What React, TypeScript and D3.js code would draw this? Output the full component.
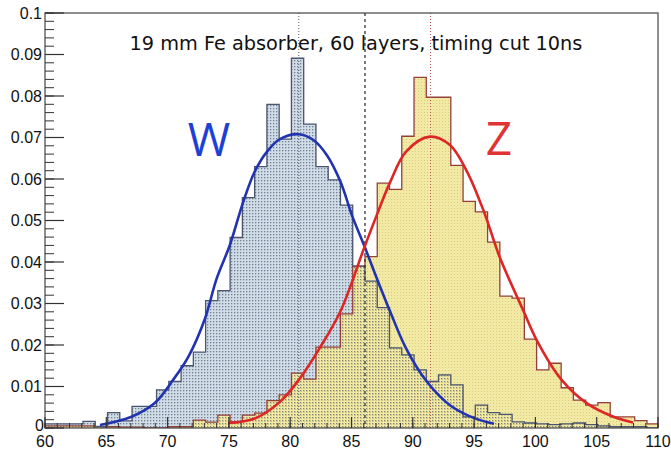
import React from "react";
import * as d3 from "d3";

// Histogram bins: lower edges start at binStart, width binWidth
const binStart = 59.1;
const binWidth = 1;
const wValues = [
  0.001, 0.001, 0.001, 0.001, 0.0016, 0.0004, 0.0037, 0.0017, 0.0052, 0.0052,
  0.0092, 0.0112, 0.015, 0.0183, 0.0307, 0.0331, 0.0459, 0.0555, 0.063, 0.078,
  0.0696, 0.0891, 0.0732, 0.063, 0.0598, 0.0537, 0.039, 0.0354, 0.029, 0.0193,
  0.0176, 0.014, 0.0112, 0.0128, 0.0104, 0.0027, 0.0055, 0.0037, 0.0033, 0.0015,
  0.0012, 0.001, 0.0008, 0.001, 0.0012, 0.0008, 0.0005, 0.0003, 0.0003, 0.0003,
  0,
];
const zValues = [
  0.0005, 0.0005, 0.0005, 0.0005, 0.0005, 0.0003, 0.0003, 0.0002, 0.0002, 0,
  0, 0.0003, 0.0003, 0.0019, 0.0014, 0.0031, 0.0015, 0.0031, 0.0036, 0.0066,
  0.008, 0.0132, 0.0118, 0.0195, 0.0195, 0.0275, 0.039, 0.0413, 0.059, 0.0575,
  0.0703, 0.0845, 0.0797, 0.0797, 0.0633, 0.0546, 0.0521, 0.0448, 0.0318, 0.0313,
  0.0214, 0.014, 0.0156, 0.0097, 0.0067, 0.0055, 0.0061, 0.0027, 0.0027, 0.0018,
  0.001,
];

// Fit curves
const wFitX = [64.48, 67.06, 68.95, 70.45, 71.7, 73.03, 74.0, 75.08, 76.17, 77.11, 78.11, 79.16, 80.7, 81.89, 82.98, 84.08, 85.07, 86.07, 87.06, 88.16, 89.45, 91.14, 93.03, 94.92, 96.62];
const wFitY = [0.0007, 0.0027, 0.006, 0.0116, 0.0172, 0.0262, 0.036, 0.0441, 0.0545, 0.0618, 0.0666, 0.0696, 0.0708, 0.0694, 0.0658, 0.0595, 0.051, 0.0437, 0.0361, 0.028, 0.0192, 0.0112, 0.0055, 0.0025, 0.001];
const zFitX = [74.93, 77.11, 79.16, 80.8, 82.39, 84.08, 86.07, 87.06, 88.16, 89.45, 91.39, 93.03, 94.42, 95.82, 97.11, 99.0, 100.1, 102.14, 104.18, 106.37, 107.96];
const zFitY = [0.0012, 0.0023, 0.0063, 0.012, 0.0192, 0.028, 0.0437, 0.0513, 0.0593, 0.0666, 0.0702, 0.0682, 0.0618, 0.052, 0.041, 0.0284, 0.0212, 0.0116, 0.006, 0.0027, 0.0013];

const vLines = [80.7, 86.1, 91.45];
const xTicks = [60, 65, 70, 75, 80, 85, 90, 95, 100, 105, 110];
const yTicks = [0, 0.01, 0.02, 0.03, 0.04, 0.05, 0.06, 0.07, 0.08, 0.09, 0.1];
const yTickLabels = ["0", "0.01", "0.02", "0.03", "0.04", "0.05", "0.06", "0.07", "0.08", "0.09", "0.1"];
const title = "19 mm Fe absorber, 60 layers, timing cut 10ns";

const W = 671;
const H = 451;
const L = 45, R = 658, T = 13, B = 428;

export default function App() {
  const x = d3.scaleLinear().domain([60, 110]).range([L, R]);
  const y = d3.scaleLinear().domain([0, 0.1]).range([B, T]);

  const histPts = (vals: number[]) => {
    const pts: [number, number][] = [[binStart, 0]];
    vals.forEach((v, i) => pts.push([binStart + i * binWidth, v]));
    const end = binStart + vals.length * binWidth;
    pts.push([end, vals[vals.length - 1]]);
    pts.push([end, 0]);
    return pts;
  };
  const areaGen = d3
    .area<[number, number]>()
    .x((d) => x(d[0]))
    .y0(y(0))
    .y1((d) => y(d[1]))
    .curve(d3.curveStepAfter);
  const lineGen = d3
    .line<[number, number]>()
    .x((d) => x(d[0]))
    .y((d) => y(d[1]))
    .curve(d3.curveStepAfter);
  const fitGen = d3
    .line<[number, number]>()
    .x((d) => x(d[0]))
    .y((d) => y(d[1]))
    .curve(d3.curveCatmullRom.alpha(0.5));

  const wPts = histPts(wValues);
  const zPts = histPts(zValues);
  const wFit = wFitX.map((v, i) => [v, wFitY[i]] as [number, number]);
  const zFit = zFitX.map((v, i) => [v, zFitY[i]] as [number, number]);

  const minorX = d3.range(60, 111, 1);
  const minorY = d3.range(0, 0.1001, 0.002);
  const labelFont = "'Liberation Sans', Arial, sans-serif";

  return (
    <svg width={W} height={H} style={{ position: "absolute", left: 0, top: 0, background: "#fff" }}>
      <defs>
        <clipPath id="plot">
          <rect x={L} y={T} width={R - L} height={B - T} />
        </clipPath>
        <pattern id="wdots" width="3" height="3" patternUnits="userSpaceOnUse">
          <rect x="0" y="0" width="1.3" height="1.3" fill="#34425e" opacity="0.6" />
        </pattern>
        <pattern id="zdots" width="3" height="3" patternUnits="userSpaceOnUse">
          <rect x="1" y="1" width="1" height="1" fill="#b8a955" opacity="0.45" />
        </pattern>
      </defs>
      <g clipPath="url(#plot)">
        <path d={areaGen(wPts) || ""} fill="#d0dce6" />
        <path d={areaGen(zPts) || ""} fill="#f2e9a4" />
        <path d={areaGen(zPts) || ""} fill="url(#zdots)" />
        <path d={areaGen(wPts) || ""} fill="url(#wdots)" />
        <path d={lineGen(zPts) || ""} fill="none" stroke="#94403a" strokeWidth={1.3} />
        <path d={lineGen(wPts) || ""} fill="none" stroke="#4a5570" strokeWidth={1.3} />
        {vLines.map((v, i) => (
          <line
            key={i}
            x1={x(v)}
            x2={x(v)}
            y1={T}
            y2={B}
            stroke={i === 0 ? "#4a5570" : i === 1 ? "#333" : "#b05050"}
            strokeWidth={i === 1 ? 1.3 : 1}
            strokeDasharray={i === 1 ? "3,3" : "1,2"}
          />
        ))}
        <path d={fitGen(wFit) || ""} fill="none" stroke="#2233b0" strokeWidth={2.6} />
        <path d={fitGen(zFit) || ""} fill="none" stroke="#dd2626" strokeWidth={2.6} />
      </g>
      {/* frame */}
      <rect x={L} y={T} width={R - L} height={B - T} fill="none" stroke="#444" strokeWidth={1.2} />
      {/* y ticks */}
      {minorY.map((v, i) => (
        <line key={"my" + i} x1={L} x2={L + 9} y1={y(v)} y2={y(v)} stroke="#333" strokeWidth={1} />
      ))}
      {yTicks.map((v, i) => (
        <g key={"y" + i}>
          <line x1={L} x2={L + 19} y1={y(v)} y2={y(v)} stroke="#333" strokeWidth={1.2} />
          <text
            x={i === 0 ? 44 : 42}
            y={y(v)}
            dy={i === 0 ? "0.2em" : "0.36em"}
            textAnchor="end"
            fontFamily={labelFont}
            fontSize={16}
            fill="#111"
          >
            {yTickLabels[i]}
          </text>
        </g>
      ))}
      {/* x ticks */}
      {minorX.map((v, i) => (
        <line key={"mx" + i} x1={x(v)} x2={x(v)} y1={B} y2={B - 5} stroke="#333" strokeWidth={1} />
      ))}
      {xTicks.map((v, i) => (
        <g key={"x" + i}>
          <line x1={x(v)} x2={x(v)} y1={B} y2={B - 11} stroke="#333" strokeWidth={1.2} />
          <text x={x(v)} y={447} textAnchor="middle" fontFamily={labelFont} fontSize={16} fill="#111">
            {v}
          </text>
        </g>
      ))}
      <text x={356} y={50} textAnchor="middle" fontFamily="'DejaVu Sans', sans-serif" fontSize={19.3} fill="#111">
        {title}
      </text>
      <text x={209} y={156} textAnchor="middle" fontFamily="'Open Sans', sans-serif" fontSize={46} fill="#1f3fd6">
        W
      </text>
      <text x={499} y={155} textAnchor="middle" fontFamily="'Open Sans', sans-serif" fontSize={46} fill="#e03333">
        Z
      </text>
    </svg>
  );
}
